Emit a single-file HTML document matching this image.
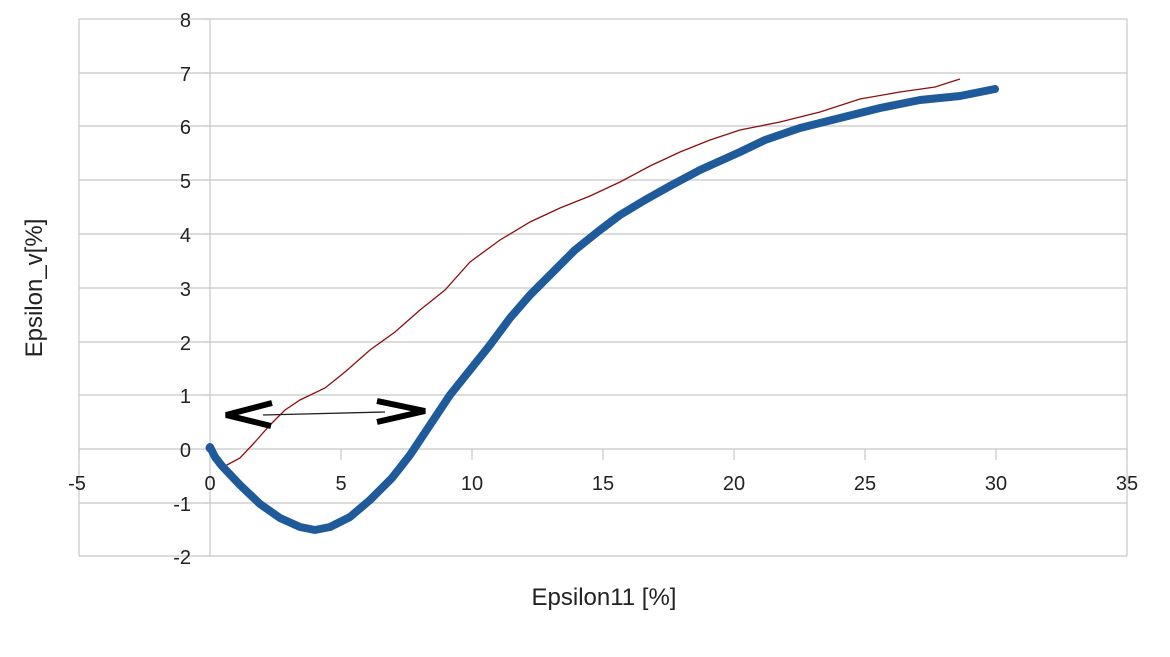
<!DOCTYPE html>
<html><head><meta charset="utf-8"><style>
html,body{margin:0;padding:0;background:#fff;}
text{font-family:"Liberation Sans",sans-serif;font-size:20px;fill:#222;}
</style></head><body>
<svg width="1170" height="652" viewBox="0 0 1170 652">
<rect width="1170" height="652" fill="#fff"/>
<g stroke="#c8c8c8" stroke-width="1.2">
<line x1="79" y1="19" x2="1127" y2="19"/>
<line x1="79" y1="73" x2="1127" y2="73"/>
<line x1="79" y1="126" x2="1127" y2="126"/>
<line x1="79" y1="180" x2="1127" y2="180"/>
<line x1="79" y1="234" x2="1127" y2="234"/>
<line x1="79" y1="288" x2="1127" y2="288"/>
<line x1="79" y1="342" x2="1127" y2="342"/>
<line x1="79" y1="395" x2="1127" y2="395"/>
<line x1="79" y1="449" x2="1127" y2="449"/>
<line x1="79" y1="503" x2="1127" y2="503"/>
<line x1="79" y1="556" x2="1127" y2="556"/>
<line x1="79" y1="19" x2="79" y2="556"/>
<line x1="1127" y1="19" x2="1127" y2="556"/>
<line x1="210" y1="19" x2="210" y2="556"/>
<line x1="203" y1="19" x2="210" y2="19"/><line x1="203" y1="73" x2="210" y2="73"/><line x1="203" y1="126" x2="210" y2="126"/><line x1="203" y1="180" x2="210" y2="180"/><line x1="203" y1="234" x2="210" y2="234"/><line x1="203" y1="288" x2="210" y2="288"/><line x1="203" y1="342" x2="210" y2="342"/><line x1="203" y1="395" x2="210" y2="395"/><line x1="203" y1="503" x2="210" y2="503"/><line x1="203" y1="556" x2="210" y2="556"/>
<line x1="79" y1="449" x2="79" y2="460"/><line x1="341" y1="449" x2="341" y2="460"/><line x1="472" y1="449" x2="472" y2="460"/><line x1="603" y1="449" x2="603" y2="460"/><line x1="734" y1="449" x2="734" y2="460"/><line x1="865" y1="449" x2="865" y2="460"/><line x1="996" y1="449" x2="996" y2="460"/><line x1="1127" y1="449" x2="1127" y2="460"/>
</g>
<g text-anchor="end">
<text x="191" y="27">8</text><text x="191" y="81">7</text><text x="191" y="134">6</text><text x="191" y="188">5</text><text x="191" y="242">4</text><text x="191" y="296">3</text><text x="191" y="350">2</text><text x="191" y="403">1</text><text x="191" y="457">0</text><text x="191" y="511">-1</text><text x="191" y="564">-2</text>
</g>
<g text-anchor="middle">
<text x="77" y="490">-5</text><text x="210" y="490">0</text><text x="341" y="490">5</text><text x="472" y="490">10</text><text x="603" y="490">15</text><text x="734" y="490">20</text><text x="865" y="490">25</text><text x="996" y="490">30</text><text x="1127" y="490">35</text>
<text x="604" y="605" style="font-size:24px">Epsilon11 [%]</text>
<text transform="translate(42,288) rotate(-90)" style="font-size:24px">Epsilon_v[%]</text>
</g>
<polyline fill="none" stroke="#8b1010" stroke-width="1.3" points="210,452 215,462 225,466 240,458 255,442 270,425 285,410 300,400 325,388 345,372 370,350 395,332 420,310 445,290 470,262 500,240 530,222 560,208 590,196 620,182 650,166 680,152 710,140 740,130 780,122 820,112 860,99 900,92 935,87 960,79"/>
<polyline fill="none" stroke="#1f5a9a" stroke-width="8" stroke-linecap="round" stroke-linejoin="round" points="210,447 215,457 222,466 240,485 260,504 280,518 300,527 315,530 330,527 350,517 370,500 392,478 410,455 430,425 450,395 470,370 490,345 510,318 530,295 545,280 560,265 575,250 600,230 620,215 645,200 670,186 700,170 740,152 765,140 800,128 840,118 880,108 920,100 960,96 995,89"/>
<circle cx="210" cy="448" r="4.5" fill="#1f5a9a"/>
<line x1="263" y1="415" x2="385" y2="412" stroke="#222" stroke-width="1.3"/>
<polyline fill="none" stroke="#000" stroke-width="6" points="272,403 226,415 271,426"/>
<polyline fill="none" stroke="#000" stroke-width="6" points="377,401 425,411 377,422"/>
</svg>
</body></html>
